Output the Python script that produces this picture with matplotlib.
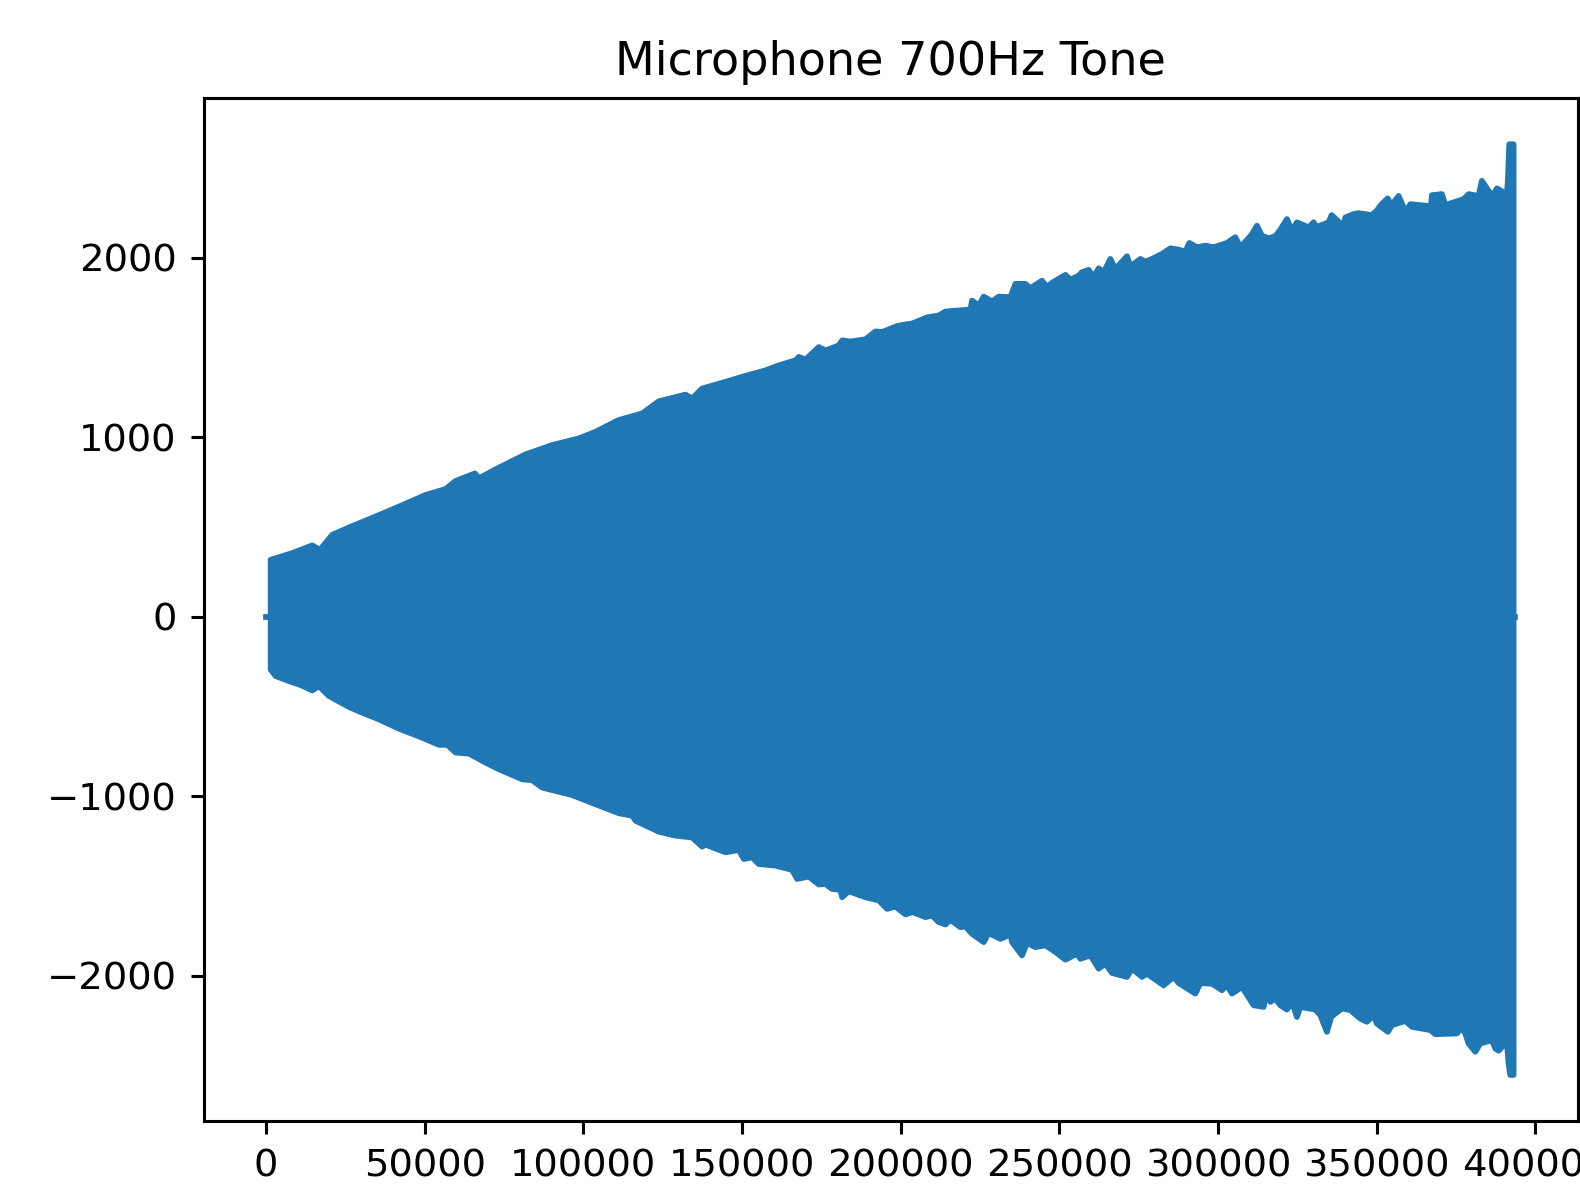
import numpy as np
import matplotlib
matplotlib.use("Agg")
import matplotlib.pyplot as plt

upper_x = [1480, 8290, 14590, 17010, 20890, 26150, 34560, 41900, 50310, 56620,
           59770, 65850, 67110, 73410, 81820, 90200, 98610, 103870, 111120, 118560,
           123820, 132230, 134310, 137460, 144830, 150060, 157430, 161620, 166890, 167930,
           170040, 174230, 176340, 180530, 181570, 184220, 188940, 192090, 194170, 198900,
           201540, 203620, 208350, 212040, 214150, 218340, 222020, 222530, 224640, 226210,
           228830, 230940, 234620, 236200, 239350, 240920, 244580, 246150, 247730, 251950,
           253530, 256140, 257180, 259290, 260870, 262440, 264020, 266130, 267700, 271360,
           272430, 273470, 275580, 277160, 279240, 282390, 285030, 287650, 289760, 291020,
           293420, 296060, 298680, 302860, 305510, 307090, 308660, 310550, 312320, 313890,
           316010, 318110, 319690, 321770, 323350, 324920, 328600, 330180, 331130, 334900,
           335850, 338900, 339400, 340170, 342800, 344360, 348460, 350030, 351600, 353500,
           354760, 356970, 359170, 360650, 365790, 366950, 367460, 370610, 371680, 377450,
           379020, 382170, 383210, 384790, 386580, 387940, 391090, 391400, 391840, 393200]
upper_y = [317, 354, 397, 372, 456, 497, 558, 613, 678, 711,
           756, 798, 771, 830, 904, 956, 993, 1030, 1095, 1132,
           1200, 1237, 1215, 1271, 1308, 1336, 1372, 1400, 1428, 1447,
           1432, 1502, 1483, 1511, 1539, 1533, 1545, 1589, 1586, 1619,
           1628, 1633, 1667, 1678, 1700, 1706, 1711, 1761, 1733, 1783,
           1756, 1783, 1780, 1854, 1854, 1830, 1872, 1836, 1860, 1904,
           1878, 1900, 1919, 1932, 1891, 1941, 1919, 1993, 1937, 2008,
           1952, 1965, 1993, 1978, 1993, 2021, 2052, 2045, 2033, 2082,
           2058, 2067, 2058, 2082, 2114, 2058, 2089, 2126, 2178, 2122,
           2108, 2119, 2156, 2215, 2150, 2197, 2169, 2197, 2171, 2197,
           2237, 2187, 2159, 2224, 2243, 2248, 2237, 2261, 2298, 2330,
           2293, 2344, 2254, 2298, 2289, 2252, 2348, 2354, 2293, 2326,
           2354, 2344, 2428, 2386, 2343, 2386, 2354, 2428, 2632, 2632]

lower_x = [1480, 3060, 7250, 10930, 14590, 16700, 19850, 26150, 30340, 35600,
           41900, 49240, 54510, 57120, 59770, 63960, 69220, 73410, 80750, 83900,
           87050, 96500, 103870, 111210, 115410, 116480, 123820, 129080, 134310, 137460,
           138530, 144830, 149020, 150600, 153210, 155320, 160580, 165820, 167390, 171080,
           174230, 176340, 178420, 181070, 181570, 183680, 188940, 193130, 195750, 198390,
           201540, 203620, 205730, 207840, 209920, 212040, 214150, 215720, 218870, 220440,
           222530, 226210, 227790, 231470, 234620, 235130, 238280, 239850, 242500, 245650,
           248800, 251950, 255610, 256680, 259830, 262440, 264560, 266630, 271360, 272940,
           276090, 277660, 282920, 286080, 287650, 292910, 294490, 298140, 301290, 302860,
           304440, 307590, 311280, 314430, 315470, 316540, 318110, 319690, 321770, 323350,
           324920, 325990, 330710, 332290, 334370, 335750, 339090, 341740, 344890, 346970,
           349080, 350120, 353590, 354850, 359070, 361150, 366950, 368530, 375330, 376910,
           377980, 379020, 381130, 382710, 386360, 387440, 388480, 391090, 391620, 392150,
           393200]
lower_y = [-294, -331, -359, -381, -411, -387, -442, -503, -535, -572,
           -624, -674, -714, -714, -757, -763, -813, -850, -906, -911,
           -952, -994, -1045, -1095, -1109, -1137, -1198, -1220, -1230, -1281,
           -1270, -1313, -1300, -1350, -1341, -1378, -1387, -1411, -1461, -1448,
           -1492, -1489, -1517, -1522, -1563, -1530, -1563, -1581, -1628, -1615,
           -1659, -1646, -1659, -1674, -1665, -1702, -1715, -1689, -1730, -1726,
           -1767, -1813, -1763, -1795, -1770, -1813, -1887, -1818, -1841, -1831,
           -1868, -1911, -1878, -1906, -1887, -1961, -1933, -1985, -2007, -1961,
           -2007, -1989, -2054, -2007, -2041, -2100, -2041, -2045, -2081, -2054,
           -2100, -2063, -2165, -2174, -2081, -2146, -2128, -2165, -2189, -2146,
           -2230, -2174, -2189, -2220, -2313, -2229, -2183, -2192, -2239, -2257,
           -2220, -2267, -2313, -2276, -2252, -2285, -2303, -2326, -2322, -2289,
           -2322, -2378, -2424, -2378, -2359, -2406, -2418, -2368, -2489, -2553,
           -2553]

# silent parts before and after the tone
lead_x = [0, 1480]
tail_x = [393200, 393700]

DPI = 277
fig = plt.figure(figsize=(1580 / DPI, 1190 / DPI), dpi=DPI)
ax = fig.add_axes([0.1288, 0.0576, 0.8697, 0.8603])

xs = np.concatenate([upper_x, lower_x[::-1]])
ys = np.concatenate([upper_y, lower_y[::-1]])
ax.fill(xs, ys, facecolor='C0', edgecolor='C0', linewidth=1.5, joinstyle='round')
ax.plot(lead_x, [0, 0], color='C0', linewidth=1.5)
ax.plot(tail_x, [0, 0], color='C0', linewidth=1.5)

ax.set_title('Microphone 700Hz Tone')

fig.savefig('out.png', dpi=DPI)
